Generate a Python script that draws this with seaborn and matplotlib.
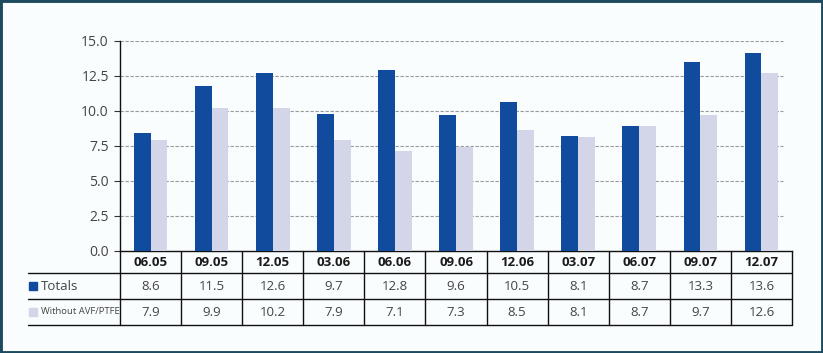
import numpy as np
import pandas as pd
import matplotlib
matplotlib.use("Agg")
import matplotlib.pyplot as plt
import matplotlib.transforms as mtransforms
from matplotlib import font_manager
from matplotlib.lines import Line2D
from matplotlib.patches import Rectangle
import seaborn as sns

# data
periods = ["06.05", "09.05", "12.05", "03.06", "06.06", "09.06",
           "12.06", "03.07", "06.07", "09.07", "12.07"]
series_names = ["Totals", "Without AVF/PTFE"]
# bar heights as drawn
totals_bars = [8.4, 11.8, 12.7, 9.8, 12.9, 9.7, 10.6, 8.2, 8.9, 13.5, 14.1]
without_bars = [7.9, 10.2, 10.2, 7.9, 7.1, 7.4, 8.6, 8.1, 8.9, 9.7, 12.7]
# values printed in the table
totals_table = ["8.6", "11.5", "12.6", "9.7", "12.8", "9.6", "10.5", "8.1", "8.7", "13.3", "13.6"]
without_table = ["7.9", "9.9", "10.2", "7.9", "7.1", "7.3", "8.5", "8.1", "8.7", "9.7", "12.6"]
yticks = [0.0, 2.5, 5.0, 7.5, 10.0, 12.5, 15.0]

blue = "#114b9e"
lavender = "#d3d6e9"
bg = "#f9fdfe"

df = pd.DataFrame({
    "period": periods * 2,
    "series": [series_names[0]] * len(periods) + [series_names[1]] * len(periods),
    "value": totals_bars + without_bars,
})

sns.set_style("white")
plt.rcParams["font.family"] = ["Open Sans", "DejaVu Sans"]

names = {f.name for f in font_manager.fontManager.ttflist}
narrow = "Liberation Sans Narrow" in names

W, H = 823, 353
fig = plt.figure(figsize=(W / 100, H / 100), dpi=100, facecolor=bg)


def fx(px):
    return px / W


def fy(py):
    return 1 - py / H


ax = fig.add_axes([fx(120), fy(251), fx(792) - fx(120), fy(40.7) - fy(251)])
ax.set_facecolor(bg)

sns.barplot(data=df, x="period", y="value", hue="series", order=periods,
            palette=[blue, lavender], width=0.55, gap=0, saturation=1,
            linewidth=0, legend=False, ax=ax, zorder=3)

ax.set_xlim(-0.5, len(periods) - 0.5)
ax.set_ylim(0, 15)
ax.set_yticks(yticks)
ax.set_yticklabels([f"{t:.1f}" for t in yticks], fontsize=10, color="#444444")
ax.set_xticks([])
ax.set_xlabel("")
ax.set_ylabel("")
ax.tick_params(axis="y", length=4, width=0.8, color="#333333", pad=4, left=True)
for t in yticks[1:]:
    ax.axhline(t, xmax=(783 - 120) / (792 - 120), color="#9a9a9a", lw=0.8,
               ls=(0, (3, 1.5)), zorder=1)
for s in ["top", "right"]:
    ax.spines[s].set_visible(False)
ax.spines["left"].set_color("#111111")
ax.spines["left"].set_linewidth(1)
ax.spines["bottom"].set_color("#111111")
ax.spines["bottom"].set_linewidth(1)

# data table under the bars
blend = mtransforms.blended_transform_factory(ax.transData, fig.transFigure)
row_lines = [273, 299, 325]
for py in row_lines:
    fig.add_artist(Line2D([fx(28), fx(792)], [fy(py), fy(py)], color="#111111", lw=1))
for i in range(len(periods) + 1):
    x = i - 0.5
    fig.add_artist(Line2D([x, x], [fy(251), fy(325)], transform=blend,
                          color="#111111", lw=1))

for i, p in enumerate(periods):
    fig.text(i, fy(262), p, transform=blend, ha="center", va="center",
             fontsize=9.5, fontweight="bold", color="#1a1a1a")
    fig.text(i, fy(286.5), totals_table[i], transform=blend, ha="center",
             va="center", fontsize=9.5, color="#444444")
    fig.text(i, fy(312.5), without_table[i], transform=blend, ha="center",
             va="center", fontsize=9.5, color="#444444")

# legend column
if narrow:
    small = dict(family=["Liberation Sans Narrow", "DejaVu Sans"], fontsize=8.4)
else:
    small = dict(fontsize=6.8)
legend_rows = [(286, blue, series_names[0], dict(fontsize=9.5)),
               (312, lavender, series_names[1], small)]
for py, col, name, kw in legend_rows:
    fig.add_artist(Rectangle((fx(29), fy(py + 4)), fx(8), fy(py - 4) - fy(py + 4),
                             transform=fig.transFigure, color=col))
    fig.text(fx(41), fy(py), name, ha="left", va="center", color="#444444", **kw)

# outer frame
fig.add_artist(Rectangle((0, 0), 1, 1, transform=fig.transFigure, fill=False,
                         edgecolor="#1d4a5e", lw=3.5))

fig.savefig("out.png", dpi=100, facecolor=bg)
